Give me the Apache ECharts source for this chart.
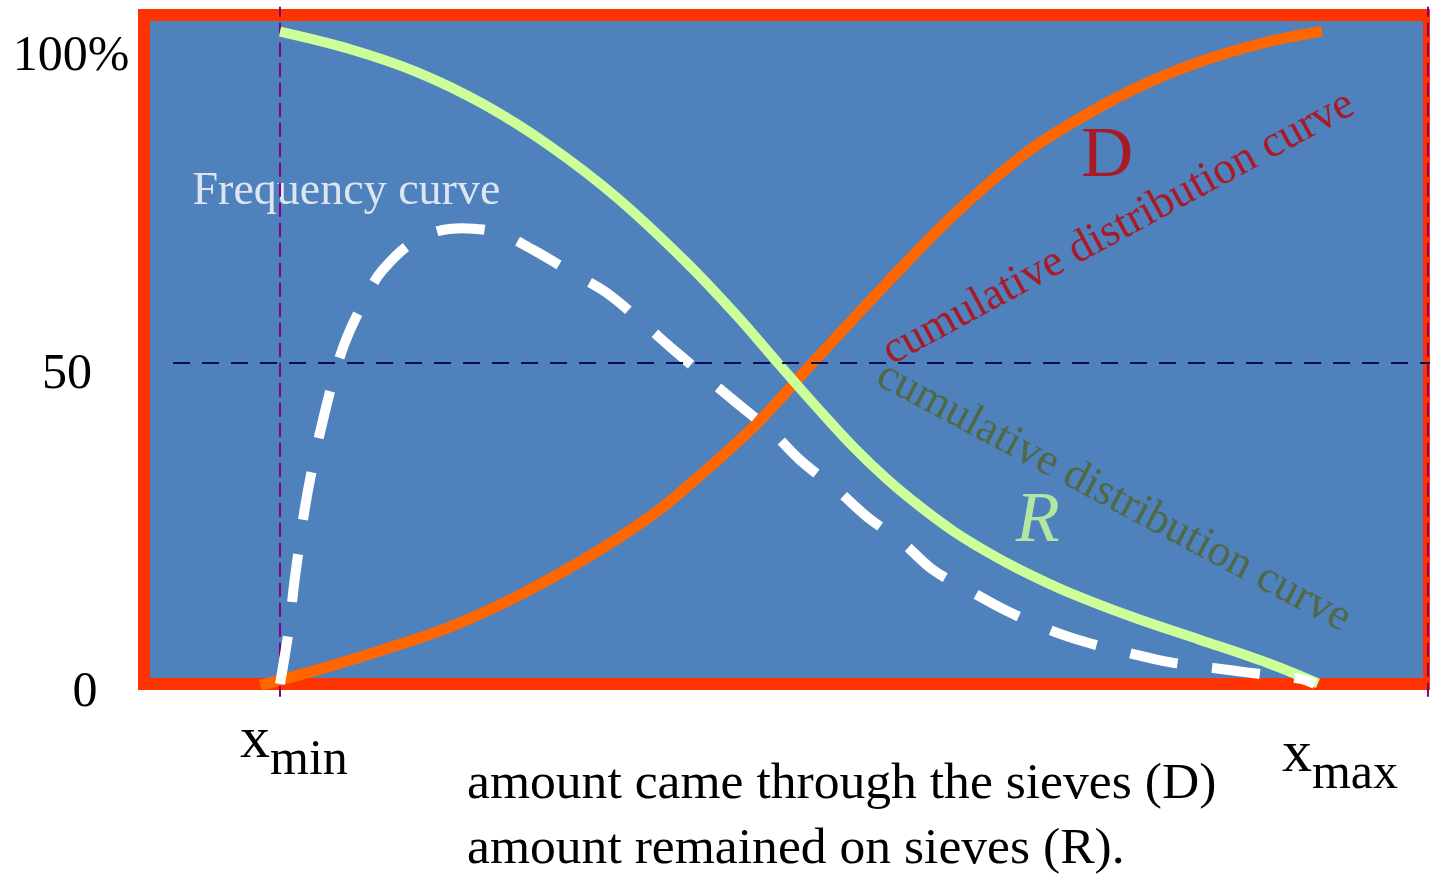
<!DOCTYPE html>
<html><head><meta charset="utf-8">
<script src="https://cdn.jsdelivr.net/npm/echarts@6/dist/echarts.min.js"></script>
<style>html,body{margin:0;padding:0;background:#fff}#c{width:1430px;height:874px}</style>
</head><body><div id="c"></div>
<script>
// cumulative distribution curve D (amount came through the sieves), % vs relative size
const distD = [[-1.9,-0.2],[3.6,2.2],[9.9,5.3],[16.4,8.9],[22.8,13.6],[29.2,19.3],[35.6,26.0],[39.2,30.7],[45.6,40.0],[51.3,50.0],[58.5,62.5],[64.8,72.9],[71.3,82.0],[75.8,86.9],[82.2,92.6],[88.6,96.9],[95.1,100.0],[100.4,101.7]];
// cumulative distribution curve R (amount remained on sieves)
const distR = [[0,101.6],[6.7,98.9],[13.2,95.3],[19.6,90.3],[26.0,83.8],[32.5,75.7],[39.2,65.6],[44.0,57.4],[47.7,50.5],[52.0,42.6],[55.2,37.0],[58.5,31.9],[61.7,27.6],[64.8,23.9],[68.1,20.6],[71.3,17.8],[75.8,14.4],[82.2,10.4],[88.6,6.9],[95.1,3.3],[100,0.1]];
// frequency curve
const freq = [[0,0],[0.8,7.9],[1.5,17.3],[2.7,30.2],[4.5,43.5],[6.1,52.5],[8.0,59.3],[9.9,64.5],[13.5,69.5],[17.5,71.0],[21.2,70.2],[24.4,67.6],[28.2,64.0],[31.5,60.9],[35.0,56.2],[37.6,52.5],[41.1,47.7],[44.0,43.8],[47.5,39.1],[50.1,34.9],[53.7,30.2],[56.6,26.0],[60.0,22.0],[62.9,17.8],[66.8,14.2],[70.0,11.4],[74.2,8.4],[77.7,6.5],[81.9,4.8],[85.7,3.4],[89.9,2.5],[93.7,1.7],[98.3,0.8],[99.7,0]];
// guide lines
const midLevel = [[-10.3,50],[110.8,50]];
const xMinGuide = [[0,-2],[0,105.5]];
const xEdgeGuide = [[110.6,-2],[110.6,105.5]];
// tick labels
const xTickValues = [0, 100];
const xTickSubs = ['min', 'max'];
const yTickValues = [0, 50, 100];
const yTickLabels = ['0', '50', '100%'];
// annotations (text and anchor in data units)
const annoTexts = ['Frequency curve', 'cumulative distribution curve', 'cumulative distribution curve', 'D', 'R'];
const annoAnchors = [[6.4,76.6],[80.8,71.0],[80.3,29.1],[79.7,82.1],[73.0,25.2]];
const axisTitle = ['amount came through the sieves (D)', 'amount remained on sieves (R).'];

const SERIF = '"Liberation Serif", "DejaVu Serif", serif';
const chart = echarts.init(document.getElementById('c'));

function xLabel(v) {
  const i = xTickValues.indexOf(v);
  return '{x|x}{s|' + xTickSubs[i] + '}';
}
const xRich = {
  x: {fontSize: 60, lineHeight: 60, verticalAlign: 'top', fontFamily: SERIF, color: '#000'},
  s: {fontSize: 50, lineHeight: 100, verticalAlign: 'middle', fontFamily: SERIF, color: '#000'}
};
const hiddenAxis = {axisLine:{show:false}, axisTick:{show:false}, splitLine:{show:false}};

const annoStyles = [
  {fontSize: 46, color: '#FFFFFF', rotate: 0},
  {fontSize: 45, color: '#C00000', rotate: 28.5},
  {fontSize: 45, color: '#4F6228', rotate: -28},
  {fontSize: 72, color: '#C00000', rotate: 0},
  {fontSize: 72, color: '#CCFF99', rotate: 0, fontStyle: 'italic'}
];

const curveLine = {type:'line', smooth:0.35, symbol:'none', clip:false};
const series = [
  {type:'line', data:xMinGuide, symbol:'none', clip:false, silent:true, lineStyle:{color:'#800080', width:2, type:[14,6]}},
  {type:'line', data:xEdgeGuide, symbol:'none', clip:false, silent:true, lineStyle:{color:'#800080', width:2, type:[14,6]}},
  Object.assign({data:distD, lineStyle:{color:'#FF6600', width:11}}, curveLine),
  Object.assign({data:distR, lineStyle:{color:'#CCFF99', width:10}}, curveLine),
  Object.assign({data:freq, lineStyle:{color:'#FFFFFF', width:10, type:[48,35], cap:'butt'}}, curveLine),
  {type:'line', data:midLevel, symbol:'none', clip:false, silent:true, lineStyle:{color:'#0B0B5C', width:2, type:[17,12]}}
];
annoTexts.forEach((t, i) => {
  const st = annoStyles[i];
  series.push({
    type:'scatter', data:[annoAnchors[i]], symbolSize:1, silent:true, clip:false,
    itemStyle:{color:'rgba(0,0,0,0)'},
    label:{show:true, position:'inside', formatter:t, fontFamily:SERIF, fontSize:st.fontSize,
      color:st.color, rotate:st.rotate, fontStyle:st.fontStyle || 'normal'}
  });
});

chart.setOption({
  animation:false,
  title:{text:axisTitle.join('\n'), left:467, top:752, padding:0,
    textStyle:{fontFamily:SERIF, fontSize:51.6, fontWeight:'normal', color:'#000', lineHeight:65}},
  grid:[
    {left:144, right:1, top:15, bottom:190, show:true, outerBoundsMode:'none', containLabel:false,
      backgroundColor:'#4F81BD', borderColor:'#FF3300', borderWidth:12},
    {left:144, right:1, top:30, bottom:154, show:false, outerBoundsMode:'none', containLabel:false}
  ],
  xAxis:[
    Object.assign({gridIndex:0, type:'value', position:'bottom', min:-13.1, max:110.7,
      axisLabel:{customValues:[xTickValues[0]], margin:27, padding:[0,0,0,28], formatter:xLabel, rich:xRich}}, hiddenAxis),
    Object.assign({gridIndex:0, type:'value', position:'bottom', min:-13.1, max:110.7,
      axisLabel:{customValues:[xTickValues[1]], margin:41, padding:[0,0,0,44], formatter:xLabel, rich:xRich}}, hiddenAxis),
    {gridIndex:1, type:'value', min:0, max:1, show:false}
  ],
  yAxis:[
    {gridIndex:0, type:'value', min:0, max:104.2, show:false},
    Object.assign({gridIndex:1, type:'value', min:-4.25, max:104.25,
      axisLabel:{customValues:yTickValues, margin:73, align:'center', fontFamily:SERIF, fontSize:50, color:'#000',
        formatter:(v) => '{t' + yTickValues.indexOf(v) + '|' + yTickLabels[yTickValues.indexOf(v)] + '}',
        rich:{
          t0:{padding:[0,0,0,28], fontFamily:SERIF, fontSize:50, color:'#000'},
          t1:{padding:[0,8,0,0], fontFamily:SERIF, fontSize:50, color:'#000'},
          t2:{fontFamily:SERIF, fontSize:50, color:'#000'}
        }}}, hiddenAxis)
  ],
  series: series
});
</script></body></html>
